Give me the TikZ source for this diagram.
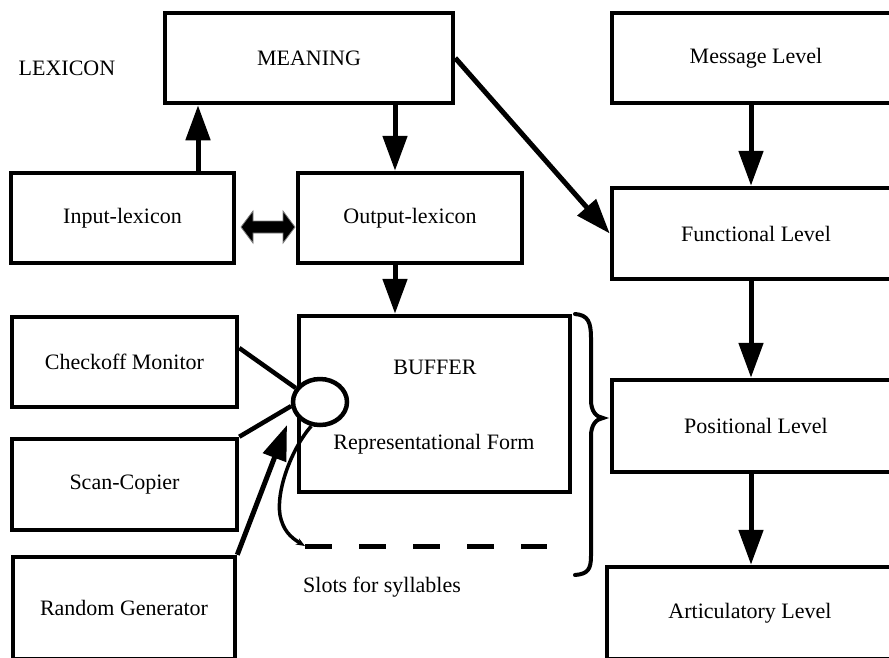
\documentclass[tikz,border=0pt]{standalone}
\usepackage{fontspec}
\setmainfont{Liberation Serif}
\usetikzlibrary{arrows.meta,shapes.geometric}
\begin{document}
\begin{tikzpicture}[x=1pt,y=-1pt,
  box/.style={draw,line width=4.5pt,inner sep=0pt,font=\fontsize{22}{26}\selectfont},
  lbl/.style={inner sep=0pt,font=\fontsize{22}{26}\selectfont},
  arr/.style={line width=5pt,-{Triangle[length=35pt,width=24pt]}},
  conn/.style={line width=4.5pt},
]
\useasboundingbox (0,0) rectangle (889,657);
\clip (0,0) rectangle (889,657);

% left / middle column
\node[lbl] (lexicon) at (67,68) {LEXICON};
\node[box,minimum width=288pt,minimum height=90pt] (meaning) at (309,58) {MEANING};
\node[box,minimum width=223pt,minimum height=90pt] (input) at (122.5,218) {Input-lexicon};
\node[box,minimum width=224pt,minimum height=90pt] (output) at (410,218) {Output-lexicon};
\node[box,minimum width=225pt,minimum height=90pt] (checkoff) at (124.5,362) {Checkoff Monitor};
\node[box,minimum width=225pt,minimum height=91pt] (scan) at (124.5,484.5) {Scan-Copier};
\node[box,minimum width=222pt,minimum height=102pt] (random) at (124,608) {Random Generator};
\node[box,minimum width=271pt,minimum height=176pt] (buffer) at (434.5,404) {};
\node[lbl] (buftitle) at (435,367) {BUFFER};
\node[lbl] (repform) at (434,444) {Representational Form};
\node[lbl] (slots) at (382,587) {Slots for syllables};

% right column
\node[box,minimum width=288pt,minimum height=90pt] (message) at (756,58) {Message Level};
\node[box,minimum width=288pt,minimum height=91pt] (functional) at (756,233.5) {Functional Level};
\node[box,minimum width=288pt,minimum height=92pt] (positional) at (756,426) {Positional Level};
\node[box,minimum width=286pt,minimum height=92pt] (articulatory) at (750,613) {Articulatory Level};

% arrows
\draw[arr] ([xshift=75.5pt]input.north) -- ([xshift=-111pt]meaning.south);
\draw[arr] ([xshift=86pt]meaning.south) -- ([xshift=-15pt]output.north);
\draw[arr] ([xshift=-15pt]output.south) -- ([xshift=-39.5pt]buffer.north);
\draw[arr] (meaning.east) -- (functional.west);
\draw[arr] ([xshift=-5pt]message.south) -- ([xshift=-5pt]functional.north);
\draw[arr] ([xshift=-5pt]functional.south) -- ([xshift=-5pt]positional.north);
\draw[arr] ([xshift=-5pt]positional.south) -- ([xshift=1pt]articulatory.north);

% double arrow between input and output lexicon
\filldraw[fill=black,draw=gray,line width=0.8pt]
  (241,227) -- (253,211) -- (253,221) -- (283,221) -- (283,211) -- (295,227)
  -- (283,243) -- (283,233) -- (253,233) -- (253,243) -- cycle;

% ellipse and its connectors
\node[draw,ellipse,line width=4.5pt,fill=white,minimum width=54pt,minimum height=46pt,inner sep=0pt] (ell) at (320,402) {};
\draw[conn] ([yshift=14pt]checkoff.east) -- (ell.150);
\draw[conn] (scan.north east) -- (ell.188);
\draw[arr] (random.north east) -- ([shift={(-33pt,-23pt)}]ell.center);

% slots
\coordinate (slotA) at (305,546);
\coordinate (slotB) at (547,546);
\draw[line width=5pt,dash pattern=on 27pt off 27pt] (slotA) -- (slotB);
\draw[line width=3.5pt,-{Stealth[length=9pt,width=7pt]}] (ell.250)
  .. controls (292,448) and (276,490) .. (280,515)
  .. controls (283,530) and (290,537) .. (slotA);

% brace
\draw[line width=4pt,line cap=round]
  (575,314) .. controls (588,315) and (591,322) .. (591,338) -- (591,400)
  .. controls (591,411) and (596,417) .. (603,418)
  .. controls (596,419) and (591,425) .. (591,436) -- (591,556)
  .. controls (591,569) and (588,574) .. (575,575);
\end{tikzpicture}
\end{document}
